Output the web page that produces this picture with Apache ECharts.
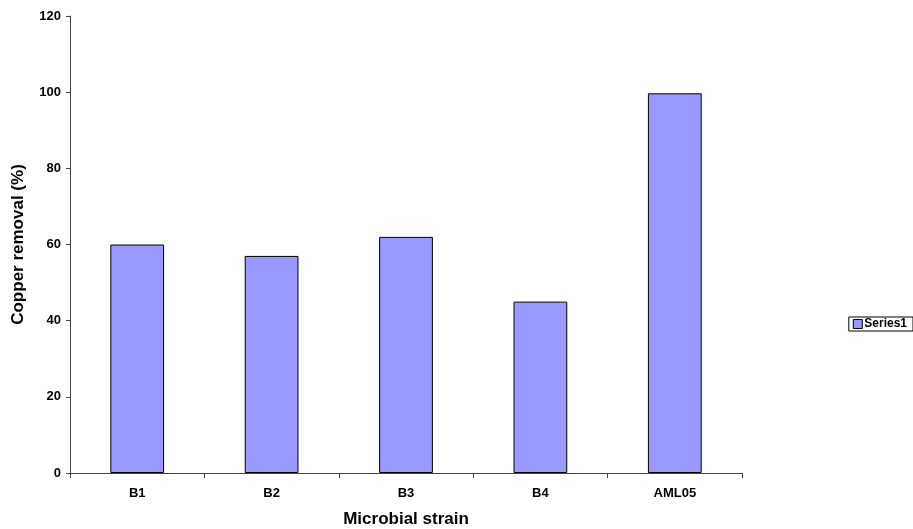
<!DOCTYPE html>
<html><head><meta charset="utf-8">
<script src="https://cdn.jsdelivr.net/npm/echarts@6/dist/echarts.min.js"></script>
<style>html,body{margin:0;padding:0;background:#fff}#c{width:913px;height:529px}</style>
</head><body><div id="c"></div>
<script>
var categories = ['B1', 'B2', 'B3', 'B4', 'AML05'];
var series1 = [60, 57, 62, 45, 99.7];
var yTicks = [0, 20, 40, 60, 80, 100, 120];

var chart = echarts.init(document.getElementById('c'), null, {renderer: 'canvas'});
chart.setOption({
  animation: false,
  backgroundColor: '#fff',
  textStyle: {fontFamily: 'Liberation Sans, Arial, sans-serif'},
  grid: {left: 70, right: 171, top: 16, bottom: 56, containLabel: false, outerBoundsMode: 'none'},
  legend: {
    right: 0, top: 317,
    orient: 'vertical',
    icon: 'rect',
    itemWidth: 9, itemHeight: 9, itemGap: 0,
    padding: [1, 6, 1, 4],
    borderColor: '#000', borderWidth: 1,
    textStyle: {fontWeight: 'bold', fontSize: 12, color: '#000', padding: [0, 0, 0, -3]},
    data: [{name: 'Series1', itemStyle: {borderColor: '#000', borderWidth: 1}}]
  },
  xAxis: {
    type: 'category',
    data: categories,
    name: 'Microbial strain',
    nameLocation: 'middle',
    nameGap: 38,
    nameTextStyle: {fontWeight: 'bold', fontSize: 17, color: '#000'},
    axisLine: {lineStyle: {color: '#444', width: 1}},
    axisTick: {show: true, length: 5, lineStyle: {color: '#444'}},
    axisLabel: {fontWeight: 'bold', fontSize: 13, color: '#000', margin: 14}
  },
  yAxis: {
    type: 'value',
    min: yTicks[0], max: yTicks[yTicks.length - 1], interval: 20,
    name: 'Copper removal (%)',
    nameLocation: 'middle',
    nameGap: 43,
    nameTextStyle: {fontWeight: 'bold', fontSize: 17, color: '#000'},
    axisLine: {show: true, lineStyle: {color: '#444', width: 1}},
    axisTick: {show: true, length: 4, lineStyle: {color: '#444'}},
    splitLine: {show: false},
    axisLabel: {fontWeight: 'bold', fontSize: 13, color: '#000', margin: 9}
  },
  series: [{
    name: 'Series1',
    type: 'bar',
    data: series1,
    barWidth: '40%',
    itemStyle: {color: '#9999ff', borderColor: '#000', borderWidth: 1}
  }]
});
</script></body></html>
